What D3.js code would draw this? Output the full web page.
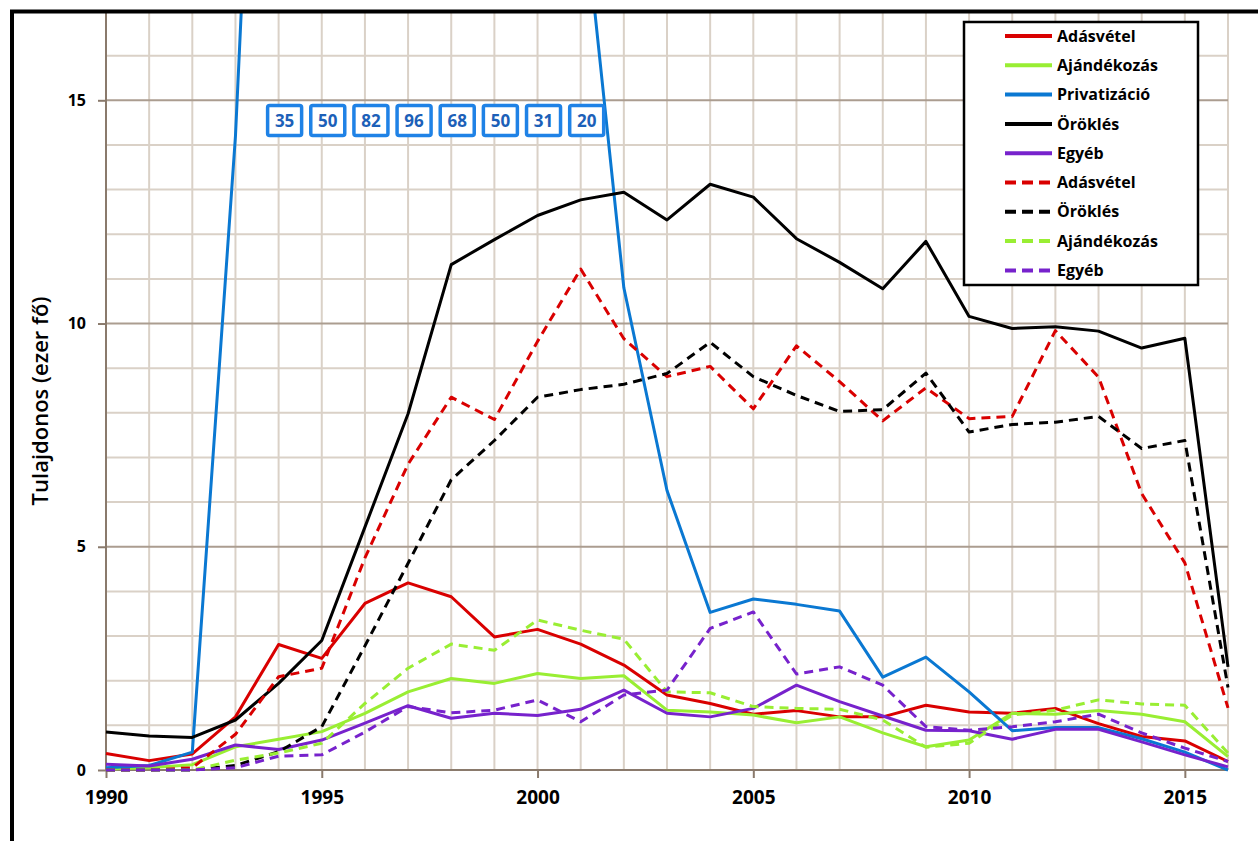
<!DOCTYPE html>
<html>
<head>
<meta charset="utf-8">
<script src="https://d3js.org/d3.v7.min.js"></script>
<title>Tulajdonos</title>
<style>
body { margin: 0; background: #fff; }
text { font-family: "Open Sans", "Noto Sans", sans-serif; }
.grid line { stroke: #dad1c7; stroke-width: 2px; }
.grid line.major { stroke: #ab9d90; }
.axis text { font-weight: bold; fill: #000; }
.axis path, .axis line { stroke: #8a7a6c; stroke-width: 2px; }
path.series { fill: none; stroke-width: 3px; stroke-linejoin: round; }
</style>
</head>
<body>
<svg class="chart"></svg>
<script>
// evek
var years = d3.range(1990, 2017)

// folytonos vonalak
var adasvetel   = [0.37,0.21,0.36,1.19,2.81,2.50,3.73,4.19,3.88,2.98,3.15,2.82,2.35,1.68,1.49,1.25,1.33,1.19,1.19,1.45,1.30,1.27,1.38,1.04,0.75,0.65,0.19]
var ajandekozas = [0.02,0.05,0.12,0.52,0.69,0.86,1.27,1.75,2.05,1.94,2.16,2.05,2.11,1.34,1.30,1.23,1.06,1.19,0.83,0.52,0.67,1.27,1.25,1.33,1.25,1.08,0.30]
var privatizacio = [0.05,0.10,0.40,14.2,35,50,82,96,68,50,31,20,10.8,6.26,3.53,3.83,3.71,3.56,2.08,2.53,1.75,0.88,0.95,0.95,0.70,0.40,0.00]
var oroklesF    = [0.85,0.76,0.73,1.12,1.94,2.90,5.44,7.98,11.32,11.88,12.42,12.77,12.94,12.32,13.12,12.83,11.90,11.37,10.78,11.84,10.16,9.89,9.93,9.83,9.45,9.67,2.31]
var egyeb       = [0.13,0.09,0.24,0.56,0.46,0.67,1.05,1.44,1.16,1.27,1.22,1.36,1.79,1.27,1.19,1.38,1.90,1.53,1.21,0.89,0.88,0.69,0.91,0.91,0.63,0.34,0.07]
// szaggatott vonalak
var adasvetelD   = [0,0,0.05,0.80,2.09,2.28,4.75,6.85,8.35,7.85,9.60,11.22,9.66,8.81,9.04,8.09,9.50,8.70,7.82,8.56,7.87,7.92,9.84,8.80,6.19,4.64,1.39]
var oroklesD     = [0,0,0,0.10,0.41,0.97,2.78,4.63,6.50,7.38,8.35,8.52,8.64,8.88,9.58,8.81,8.39,8.03,8.07,8.89,7.57,7.74,7.79,7.92,7.20,7.38,1.85]
var ajandekozasD = [0,0,0,0.22,0.38,0.60,1.49,2.28,2.82,2.68,3.36,3.13,2.93,1.75,1.73,1.42,1.38,1.36,1.12,0.51,0.60,1.23,1.34,1.57,1.48,1.45,0.38]
var egyebD       = [0,0,0,0.05,0.31,0.34,0.85,1.42,1.28,1.34,1.57,1.08,1.68,1.79,3.17,3.54,2.15,2.31,1.90,0.97,0.89,0.97,1.08,1.25,0.83,0.49,0.19]

// a skalan kivuli privatizacios ertekek cimkei
var privYears  = [1994,1995,1996,1997,1998,1999,2000,2001]
var privLabels = [35,50,82,96,68,50,31,20]

var xTicks = [1990,1995,2000,2005,2010,2015]
var yTicks = [0,5,10,15]

var series = [
    {name: 'Adásvétel',    values: adasvetel,    color: '#d90000', dash: null},
    {name: 'Ajándékozás',  values: ajandekozas,  color: '#99ee33', dash: null},
    {name: 'Privatizáció', values: privatizacio, color: '#0a78d2', dash: null},
    {name: 'Öröklés',      values: oroklesF,     color: '#000000', dash: null},
    {name: 'Egyéb',        values: egyeb,        color: '#7722cc', dash: null},
    {name: 'Adásvétel',    values: adasvetelD,   color: '#d90000', dash: '9,6'},
    {name: 'Öröklés',      values: oroklesD,     color: '#000000', dash: '9,6'},
    {name: 'Ajándékozás',  values: ajandekozasD, color: '#99ee33', dash: '9,6'},
    {name: 'Egyéb',        values: egyebD,       color: '#7722cc', dash: '9,6'}
]

window.onload = function(){
    var w = 1258, h = 841
    var svg = d3.select('.chart').attr('width', w).attr('height', h)

    var left = 106, right = 1228, top = 11, bottom = 770
    var xScale = d3.scaleLinear().domain([1990, 2016]).range([left, right])
    var yScale = d3.scaleLinear().domain([0, 17]).range([bottom, top])

    // racsvonalak
    var grid = svg.append('g').classed('grid', true)
    grid.selectAll('line.v').data(years).enter().append('line')
        .attr('x1', d => xScale(d)).attr('x2', d => xScale(d))
        .attr('y1', top).attr('y2', bottom)
    grid.selectAll('line.h').data(d3.range(0, 18)).enter().append('line')
        .classed('major', d => d % 5 == 0)
        .attr('x1', left).attr('x2', right)
        .attr('y1', d => yScale(d)).attr('y2', d => yScale(d))

    // tengelyek
    var xAxis = d3.axisBottom(xScale).tickValues(xTicks).tickFormat(d3.format('d')).tickSize(8).tickPadding(13)
    var gx = svg.append('g').classed('axis', true).attr('transform', 'translate(0,' + bottom + ')').call(xAxis)
    gx.select('path.domain').attr('d', 'M' + left + ',0H' + right)
    gx.selectAll('text').style('font-size', '19px')

    var yAxis = d3.axisLeft(yScale).tickValues(yTicks).tickSize(8).tickPadding(12)
    var gy = svg.append('g').classed('axis', true).attr('transform', 'translate(' + left + ',0)').call(yAxis)
    gy.select('path.domain').attr('d', 'M0,' + top + 'V' + bottom)
    gy.selectAll('text').style('font-size', '16px')

    svg.append('text')
        .attr('transform', 'translate(48,401) rotate(-90)')
        .attr('text-anchor', 'middle')
        .style('font-size', '22px')
        .style('font-weight', '600')
        .text('Tulajdonos (ezer fő)')

    // vonalak
    svg.append('clipPath').attr('id', 'plotclip')
        .append('rect').attr('x', left - 5).attr('y', top).attr('width', right - left + 10).attr('height', bottom - top + 5)

    var line = d3.line()
        .x(function(d, i){ return xScale(years[i]) })
        .y(function(d){ return yScale(d) })

    svg.append('g').attr('clip-path', 'url(#plotclip)')
        .selectAll('path').data(series).enter().append('path')
        .classed('series', true)
        .attr('d', d => line(d.values))
        .style('stroke', d => d.color)
        .style('stroke-dasharray', d => d.dash)

    // privatizacio cimkek
    var lab = svg.append('g').selectAll('g').data(privLabels).enter().append('g')
        .attr('transform', (d, i) => 'translate(' + (xScale(privYears[i]) + 6) + ',' + yScale(14.55) + ')')
    lab.append('rect')
        .attr('x', -17).attr('y', -15).attr('width', 34).attr('height', 30).attr('rx', 2)
        .style('fill', '#fff').style('stroke', '#1f82e6').style('stroke-width', 3.5)
    lab.append('text')
        .attr('text-anchor', 'middle').attr('dy', '0.36em')
        .style('font-size', '17px').style('font-weight', 'bold').style('fill', '#1c60b8')
        .text(d => d)

    // jelmagyarazat
    var legend = svg.append('g')
    legend.append('rect').attr('x', 964).attr('y', 22).attr('width', 234).attr('height', 263)
        .style('fill', '#fff').style('stroke', '#000').style('stroke-width', 2.5)
    var item = legend.selectAll('g.item').data(series).enter().append('g')
        .attr('transform', (d, i) => 'translate(0,' + (36 + i * 29.3) + ')')
    item.append('line').attr('x1', 1005).attr('x2', 1052)
        .style('stroke', d => d.color).style('stroke-width', 4)
        .style('stroke-dasharray', d => d.dash ? '11,6' : null)
    item.append('text').attr('x', 1057).attr('dy', '0.35em')
        .style('font-size', '16px').style('font-weight', 'bold')
        .text(d => d.name)

    // keret
    svg.append('path').attr('d', 'M12,' + h + 'V11.5H' + w)
        .style('fill', 'none').style('stroke', '#000').style('stroke-width', 4)
}
</script>
</body>
</html>
